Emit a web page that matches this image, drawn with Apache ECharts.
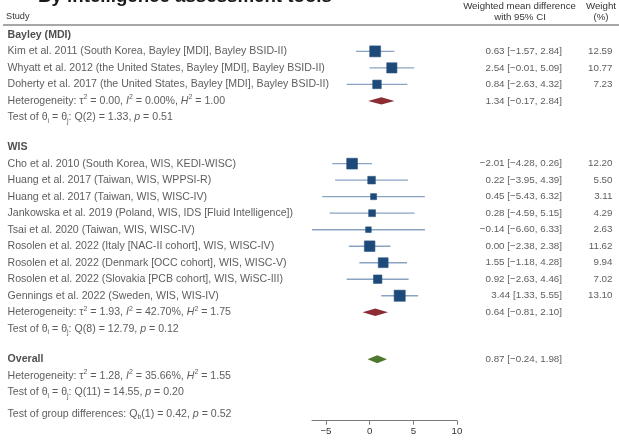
<!DOCTYPE html>
<html>
<head>
<meta charset="utf-8">
<script src="https://cdn.jsdelivr.net/npm/echarts@6/dist/echarts.min.js"></script>
<style>
  html, body { margin: 0; padding: 0; background: #fff; }
  #chart { width: 619px; height: 442px; }
</style>
</head>
<body>
<div id="chart"></div>
<script>
// ---- data -------------------------------------------------------------
const chartTitle = 'By intelligence assessment tools';
const groupNames = ['Bayley (MDI)', 'WIS'];

const bayleyStudies = [
  'Kim et al. 2011 (South Korea, Bayley [MDI], Bayley BSID-II)',
  'Whyatt et al. 2012 (the United States, Bayley [MDI], Bayley BSID-II)',
  'Doherty et al. 2017 (the United States, Bayley [MDI], Bayley BSID-II)'
];
const bayleyEst = [0.63, 2.54, 0.84];
const bayleyLow = [-1.57, -0.01, -2.63];
const bayleyHigh = [2.84, 5.09, 4.32];
const bayleyWeight = [12.59, 10.77, 7.23];

const wisStudies = [
  'Cho et al. 2010 (South Korea, WIS, KEDI-WISC)',
  'Huang et al. 2017 (Taiwan, WIS, WPPSI-R)',
  'Huang et al. 2017 (Taiwan, WIS, WISC-IV)',
  'Jankowska et al. 2019 (Poland, WIS, IDS [Fluid Intelligence])',
  'Tsai et al. 2020 (Taiwan, WIS, WISC-IV)',
  'Rosolen et al. 2022 (Italy [NAC-II cohort], WIS, WISC-IV)',
  'Rosolen et al. 2022 (Denmark [OCC cohort], WIS, WISC-V)',
  'Rosolen et al. 2022 (Slovakia [PCB cohort], WIS, WiSC-III)',
  'Gennings et al. 2022 (Sweden, WIS, WIS-IV)'
];
const wisEst = [-2.01, 0.22, 0.45, 0.28, -0.14, 0.00, 1.55, 0.92, 3.44];
const wisLow = [-4.28, -3.95, -5.43, -4.59, -6.60, -2.38, -1.18, -2.63, 1.33];
const wisHigh = [0.26, 4.39, 6.32, 5.15, 6.33, 2.38, 4.28, 4.46, 5.55];
const wisWeight = [12.20, 5.50, 3.11, 4.29, 2.63, 11.62, 9.94, 7.02, 13.10];

// pooled effects: [estimate, lower, upper]
const bayleyPooled = [1.34, -0.17, 2.84];
const wisPooled = [0.64, -0.81, 2.10];
const overallPooled = [0.87, -0.24, 1.98];

// heterogeneity: [tau2, I2 (%), H2]; homogeneity test: [df, Q, p]
const bayleyHet = [0.00, 0.00, 1.00];
const bayleyQ = [2, 1.33, 0.51];
const wisHet = [1.93, 42.70, 1.75];
const wisQ = [8, 12.79, 0.12];
const overallHet = [1.28, 35.66, 1.55];
const overallQ = [11, 14.55, 0.20];
const groupDiffQ = [1, 0.42, 0.52];

const xTickValues = [-5, 0, 5, 10];

// ---- layout -----------------------------------------------------------
const FONT = '"Liberation Sans", Arial, Helvetica, sans-serif';
const TEXT_COLOR = '#333333';
const COL_STUDY = 7;
const COL_CI = 562.5;
const COL_WEIGHT = 613;
const GRID_TOP = 18.35;
const GRID_BOTTOM = 21.3;
const Y_MIN = -1;
const Y_MAX = 23.37;

const num = v => v.toFixed(2).replace('-', '\u2212');
const ciText = (e, l, h) => `${num(e)} [${num(l)}, ${num(h)}]`;

const hetText = h =>
  `{t|Heterogeneity: \u03c4}{sup|2}{t| = ${num(h[0])}, }{i|I}{sup|2}{t| = ${num(h[1])}%, }{i|H}{sup|2}{t| = ${num(h[2])}}`;
const testText = q =>
  `{t|Test of \u03b8}{sub|i}{t| = \u03b8}{sub|j}{t|: Q(${q[0]}) = ${num(q[1])}, }{i|p}{t| = ${num(q[2])}}`;
const groupText = q =>
  `{t|Test of group differences: Q}{sub|b}{t|(${q[0]}) = ${num(q[1])}, }{i|p}{t| = ${num(q[2])}}`;

// ---- rows -------------------------------------------------------------
const leftTexts = [];   // study / statistic text
const ciTexts = [];     // right-aligned CI column
const weightTexts = []; // right-aligned weight column
const studyMarks = [];  // [est, low, high, row, weight]
const diamonds = [];    // [est, low, high, row, kind]

let row = 0;
function addGroup(name, studies, est, low, high, weight, pooled, het, q) {
  leftTexts.push({ value: [COL_STUDY, row], txt: `{b|${name}}` });
  row += 1;
  studies.forEach((s, i) => {
    leftTexts.push({ value: [COL_STUDY, row], txt: `{t|${s}}` });
    ciTexts.push({ value: [COL_CI, row], txt: `{r|${ciText(est[i], low[i], high[i])}}` });
    weightTexts.push({ value: [COL_WEIGHT, row], txt: `{r|${num(weight[i])}}` });
    studyMarks.push([est[i], low[i], high[i], row, weight[i]]);
    row += 1;
  });
  leftTexts.push({ value: [COL_STUDY, row], txt: hetText(het) });
  ciTexts.push({ value: [COL_CI, row], txt: `{r|${ciText(pooled[0], pooled[1], pooled[2])}}` });
  diamonds.push([pooled[0], pooled[1], pooled[2], row, 0]);
  row += 1;
  leftTexts.push({ value: [COL_STUDY, row], txt: testText(q) });
}

addGroup(groupNames[0], bayleyStudies, bayleyEst, bayleyLow, bayleyHigh, bayleyWeight,
         bayleyPooled, bayleyHet, bayleyQ);
row += 1.8;
addGroup(groupNames[1], wisStudies, wisEst, wisLow, wisHigh, wisWeight,
         wisPooled, wisHet, wisQ);
row += 1.85;
leftTexts.push({ value: [COL_STUDY, row], txt: '{b|Overall}' });
ciTexts.push({ value: [COL_CI, row], txt: `{r|${ciText(overallPooled[0], overallPooled[1], overallPooled[2])}}` });
diamonds.push([overallPooled[0], overallPooled[1], overallPooled[2], row, 1]);
row += 1;
leftTexts.push({ value: [COL_STUDY, row], txt: hetText(overallHet) });
row += 1;
leftTexts.push({ value: [COL_STUDY, row], txt: testText(overallQ) });
row += 1.3;
leftTexts.push({ value: [COL_STUDY, row], txt: groupText(groupDiffQ) });

// ---- styles -----------------------------------------------------------
const LEFT_SIZE = 10.6;
const RIGHT_SIZE = 9.8;
const richStyles = {
  t: { fontSize: LEFT_SIZE, fontFamily: FONT, color: TEXT_COLOR, lineHeight: 14 },
  i: { fontSize: LEFT_SIZE, fontFamily: FONT, color: TEXT_COLOR, fontStyle: 'italic', lineHeight: 14 },
  b: { fontSize: LEFT_SIZE, fontFamily: FONT, color: '#222222', fontWeight: 'bold', lineHeight: 14 },
  sup: { fontSize: 7, fontFamily: FONT, color: TEXT_COLOR, lineHeight: 8, verticalAlign: 'top' },
  sub: { fontSize: 7, fontFamily: FONT, color: TEXT_COLOR, lineHeight: 8, verticalAlign: 'bottom' },
  r: { fontSize: RIGHT_SIZE, fontFamily: FONT, color: TEXT_COLOR, lineHeight: 14 }
};

function textSeries(data, position) {
  return {
    type: 'scatter',
    xAxisIndex: 0,
    yAxisIndex: 0,
    symbolSize: 1,
    itemStyle: { color: 'rgba(0,0,0,0)' },
    silent: true,
    data: data,
    label: {
      show: true,
      position: position,
      distance: 0,
      formatter: p => p.data.txt,
      rich: richStyles
    }
  };
}

const chart = echarts.init(document.getElementById('chart'), null, { renderer: 'canvas' });

chart.setOption({
  animation: false,
  backgroundColor: '#ffffff',
  graphic: [
    {
      type: 'text', x: 38, y: -12.5,
      style: { text: chartTitle, font: `bold 18.7px ${FONT}`, fill: '#1a1a1a',
               textAlign: 'left', textVerticalAlign: 'top', verticalAlign: 'top' }
    },
    {
      type: 'text', x: 6, y: 16,
      style: { text: 'Study', font: `9.2px ${FONT}`, fill: TEXT_COLOR,
               textAlign: 'left', textVerticalAlign: 'middle', verticalAlign: 'middle' }
    },
    {
      type: 'text', x: 519.5, y: 6,
      style: { text: 'Weighted mean difference', font: `9.7px ${FONT}`, fill: TEXT_COLOR,
               textAlign: 'center', align: 'center', textVerticalAlign: 'middle', verticalAlign: 'middle' }
    },
    {
      type: 'text', x: 520, y: 17.3,
      style: { text: 'with 95% CI', font: `9.7px ${FONT}`, fill: TEXT_COLOR,
               textAlign: 'center', align: 'center', textVerticalAlign: 'middle', verticalAlign: 'middle' }
    },
    {
      type: 'text', x: 601, y: 6,
      style: { text: 'Weight', font: `9.7px ${FONT}`, fill: TEXT_COLOR,
               textAlign: 'center', align: 'center', textVerticalAlign: 'middle', verticalAlign: 'middle' }
    },
    {
      type: 'text', x: 601, y: 17.3,
      style: { text: '(%)', font: `9.7px ${FONT}`, fill: TEXT_COLOR,
               textAlign: 'center', align: 'center', textVerticalAlign: 'middle', verticalAlign: 'middle' }
    },
    {
      type: 'line',
      shape: { x1: 3, y1: 25, x2: 619, y2: 25 },
      style: { stroke: '#8a8a8a', lineWidth: 1.5 }
    }
  ],
  grid: [
    { left: 0, right: 0, top: GRID_TOP, bottom: GRID_BOTTOM },
    { left: 312, right: 162, top: GRID_TOP, bottom: GRID_BOTTOM }
  ],
  xAxis: [
    { gridIndex: 0, type: 'value', min: 0, max: 619, show: false },
    {
      gridIndex: 1, type: 'value', min: -6.6, max: 10, position: 'bottom',
      axisLine: { show: true, onZero: false, lineStyle: { color: '#7a7a7a', width: 1 } },
      axisTick: { show: true, length: 4, customValues: xTickValues, lineStyle: { color: '#7a7a7a' } },
      axisLabel: {
        customValues: xTickValues,
        fontSize: 9.7, fontFamily: FONT, color: TEXT_COLOR, margin: 6,
        formatter: v => String(v).replace('-', '\u2212')
      },
      splitLine: { show: false }
    }
  ],
  yAxis: [
    { gridIndex: 0, type: 'value', min: Y_MIN, max: Y_MAX, inverse: true, show: false },
    { gridIndex: 1, type: 'value', min: Y_MIN, max: Y_MAX, inverse: true, show: false }
  ],
  series: [
    textSeries(leftTexts, 'right'),
    textSeries(ciTexts, 'left'),
    textSeries(weightTexts, 'left'),
    {
      type: 'custom',
      xAxisIndex: 1,
      yAxisIndex: 1,
      silent: true,
      data: studyMarks,
      renderItem: (params, api) => {
        const r = api.value(3);
        const pLo = api.coord([api.value(1), r]);
        const pHi = api.coord([api.value(2), r]);
        const pE = api.coord([api.value(0), r]);
        const side = 1.2 + 2.75 * Math.sqrt(api.value(4));
        return {
          type: 'group',
          children: [
            { type: 'line', shape: { x1: pLo[0], y1: pLo[1], x2: pHi[0], y2: pHi[1] },
              style: { stroke: '#8aa3c2', lineWidth: 1.4 } },
            { type: 'rect', shape: { x: pE[0] - side / 2, y: pE[1] - side / 2, width: side, height: side },
              style: { fill: '#1d4a78', stroke: '#2c5784', lineWidth: 0.6 } }
          ]
        };
      }
    },
    {
      type: 'custom',
      xAxisIndex: 1,
      yAxisIndex: 1,
      silent: true,
      data: diamonds,
      renderItem: (params, api) => {
        const r = api.value(3);
        const pLo = api.coord([api.value(1), r]);
        const pHi = api.coord([api.value(2), r]);
        const pE = api.coord([api.value(0), r]);
        const h = api.value(4) === 1 ? 4 : 3.7;
        return {
          type: 'polygon',
          shape: { points: [[pLo[0], pE[1]], [pE[0], pE[1] - h], [pHi[0], pE[1]], [pE[0], pE[1] + h]] },
          style: { fill: api.value(4) === 1 ? '#4d7a2e' : '#8c2d33' }
        };
      }
    }
  ]
});
</script>
</body>
</html>
